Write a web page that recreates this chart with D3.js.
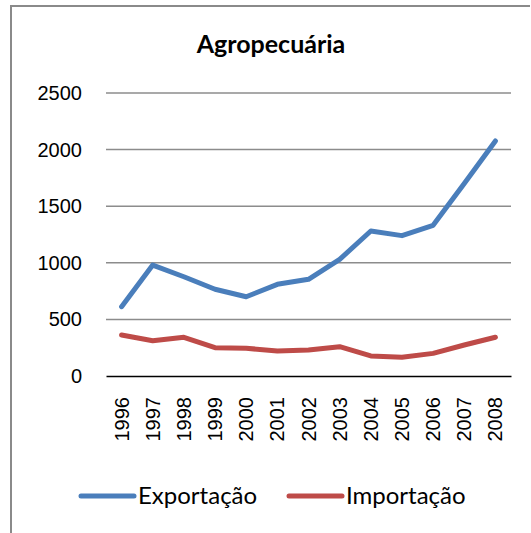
<!DOCTYPE html>
<html>
<head>
<meta charset="utf-8">
<script src="https://cdn.jsdelivr.net/npm/d3@7"></script>
<style>
  body { margin: 0; background: #fff; }
  svg { display: block; }
</style>
</head>
<body>
<script>
// chart data
var years = ['1996', '1997', '1998', '1999', '2000', '2001', '2002',
             '2003', '2004', '2005', '2006', '2007', '2008'];
var exportacao = [612, 980, 877, 766, 700, 810, 854, 1030, 1281, 1240, 1331, 1700, 2076];
var importacao = [362, 312, 342, 250, 245, 221, 230, 259, 177, 165, 200, 274, 342];
var yTicks = [0, 500, 1000, 1500, 2000, 2500];
var seriesNames = ['Exportação', 'Importação'];
var seriesColors = ['#4a7ebb', '#be4b48'];

var w = 531, h = 533;
var margin = { top: 93, bottom: 157, left: 106, right: 20 };
var width = w - margin.left - margin.right;
var height = h - margin.top - margin.bottom;

var svg = d3.select('body').append('svg')
    .attr('width', w)
    .attr('height', h);

// outer frame (cropped at right / bottom like the reference)
svg.append('path')
    .attr('d', 'M11,' + h + 'V6H530')
    .attr('fill', 'none')
    .attr('stroke', '#8a8a8a')
    .attr('stroke-width', 2);

svg.append('text')
    .attr('x', 271)
    .attr('y', 53)
    .attr('text-anchor', 'middle')
    .style('font-family', 'Lato, "Open Sans", sans-serif')
    .style('font-weight', 'bold')
    .style('font-size', '25px')
    .text('Agropecuária');

var chart = svg.append('g')
    .attr('transform', 'translate(' + margin.left + ',' + margin.top + ')');

var x = d3.scaleBand()
    .domain(years)
    .range([0, width]);
var y = d3.scaleLinear()
    .domain([0, 2500])
    .range([height, 0]);

// gridlines
chart.selectAll('.grid')
    .data(yTicks.slice(1))
    .enter()
    .append('line')
    .attr('x1', 0)
    .attr('x2', width)
    .attr('y1', function (d) { return y(d); })
    .attr('y2', function (d) { return y(d); })
    .attr('stroke', '#8c8c8c')
    .attr('stroke-width', 1.5);

var yAxis = d3.axisLeft(y)
    .tickValues(yTicks)
    .tickFormat(d3.format('d'))
    .tickSize(0)
    .tickPadding(24);
var gy = chart.append('g').call(yAxis);
gy.select('.domain').remove();
gy.selectAll('text')
    .style('font-family', '"Liberation Sans", Arial, sans-serif')
    .style('font-size', '20px')
    .attr('fill', '#000');

var xAxis = d3.axisBottom(x).tickSize(0).tickPadding(0);
var gx = chart.append('g')
    .attr('transform', 'translate(0,' + height + ')')
    .call(xAxis);
gx.select('.domain')
    .attr('stroke', '#000')
    .attr('stroke-width', 1.5);
gx.selectAll('text')
    .style('font-family', '"Liberation Sans", Arial, sans-serif')
    .style('font-size', '20px')
    .attr('fill', '#000')
    .attr('text-anchor', 'end')
    .attr('dy', null)
    .attr('transform', 'translate(7,21) rotate(-90)');

var line = d3.line()
    .x(function (d, i) { return x(years[i]) + x.bandwidth() / 2; })
    .y(function (d) { return y(d); });

var series = [exportacao, importacao];
chart.selectAll('.serie')
    .data(series)
    .enter()
    .append('path')
    .attr('d', function (d) { return line(d); })
    .attr('fill', 'none')
    .attr('stroke', function (d, i) { return seriesColors[i]; })
    .attr('stroke-width', 5)
    .attr('stroke-linejoin', 'round')
    .attr('stroke-linecap', 'round');

// legend
var legendX = [81, 289];
var legend = svg.selectAll('.legend')
    .data(seriesNames)
    .enter()
    .append('g')
    .attr('transform', function (d, i) { return 'translate(' + legendX[i] + ',496)'; });
legend.append('line')
    .attr('x1', 0)
    .attr('x2', 53)
    .attr('stroke', function (d, i) { return seriesColors[i]; })
    .attr('stroke-width', 5)
    .attr('stroke-linecap', 'round');
legend.append('text')
    .attr('x', 57)
    .attr('y', 8)
    .style('font-family', 'Lato, "Open Sans", sans-serif')
    .style('font-size', '24px')
    .text(function (d) { return d; });
</script>
</body>
</html>
